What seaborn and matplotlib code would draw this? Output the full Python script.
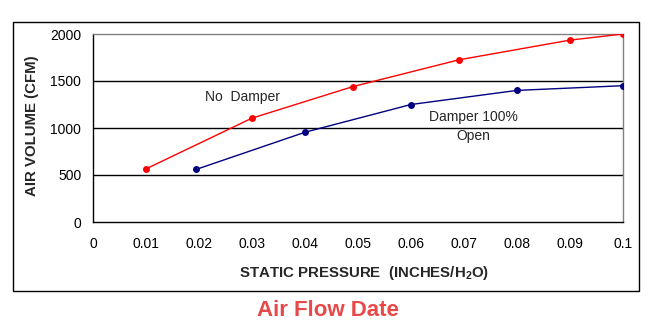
import matplotlib
matplotlib.use("Agg")
import matplotlib.pyplot as plt
import seaborn as sns
import pandas as pd
from matplotlib.patches import Rectangle

# Measured airflow vs. static pressure
no_damper_pressure = [0.01, 0.03, 0.049, 0.069, 0.09, 0.1]
no_damper_cfm = [565, 1105, 1440, 1725, 1935, 2000]
damper_pressure = [0.0195, 0.04, 0.06, 0.08, 0.1]
damper_cfm = [560, 955, 1250, 1400, 1450]

x_ticks = [0, 0.01, 0.02, 0.03, 0.04, 0.05, 0.06, 0.07, 0.08, 0.09, 0.1]
x_tick_labels = ["0", "0.01", "0.02", "0.03", "0.04", "0.05", "0.06", "0.07", "0.08", "0.09", "0.1"]
y_ticks = [0, 500, 1000, 1500, 2000]

df = pd.concat([
    pd.DataFrame({"pressure": no_damper_pressure, "cfm": no_damper_cfm, "series": "No Damper"}),
    pd.DataFrame({"pressure": damper_pressure, "cfm": damper_cfm, "series": "Damper 100% Open"}),
])

sns.set_style("white")
plt.rcParams["font.family"] = ["Liberation Sans", "DejaVu Sans"]

W, H = 649, 327
fig = plt.figure(figsize=(W / 100, H / 100), dpi=100)
ax = fig.add_axes([93 / W, 1 - 222 / H, (623 - 93) / W, (222 - 34) / H])

sns.lineplot(data=df, x="pressure", y="cfm", hue="series",
             palette={"No Damper": "#ff0000", "Damper 100% Open": "#000080"},
             marker="o", markersize=5, markeredgewidth=0, linewidth=1,
             legend=False, ax=ax, zorder=3)

ax.set_xlim(0, 0.1)
ax.set_ylim(0, 2000)
ax.set_xticks(x_ticks)
ax.set_xticklabels(x_tick_labels)
ax.set_yticks(y_ticks)
ax.tick_params(axis="x", direction="in", length=4, width=1, color="black",
               pad=11, labelsize=10, labelcolor="#000000")
ax.tick_params(axis="y", length=0, pad=8.5, labelsize=10, labelcolor="#000000")
for v in y_ticks[1:-1]:
    ax.axhline(v, color="black", linewidth=1, zorder=1)

for side in ("left", "bottom"):
    ax.spines[side].set_color("black")
    ax.spines[side].set_linewidth(1)
for side in ("top", "right"):
    ax.spines[side].set_visible(True)
    ax.spines[side].set_color("#808080")
    ax.spines[side].set_linewidth(1)

ax.set_xlabel("STATIC PRESSURE  (INCHES/H$_\\mathregular{2}$O)", fontsize=10.8,
              fontweight="bold")
ax.set_ylabel("AIR VOLUME (CFM)", fontsize=10.8, fontweight="bold")
ax.xaxis.label.set_va("center")
ax.yaxis.label.set_va("center")
ax.xaxis.set_label_coords((364 - 93) / 530, (222 - 273) / 188)
ax.yaxis.set_label_coords((32 - 93) / 530, (222 - 126) / 188)

ax.text(0.0283, 1330, "No  Damper", fontsize=10, ha="center", va="center")
ax.text(0.0718, 1117, "Damper 100%", fontsize=10, ha="center", va="center")
ax.text(0.0718, 915, "Open", fontsize=10, ha="center", va="center")

# Chart area frame
fig.patches.append(Rectangle((13 / W, 1 - 291 / H), (639 - 13) / W, (291 - 22) / H,
                             transform=fig.transFigure, fill=False,
                             edgecolor="black", linewidth=1))

fig.text(328 / W, 1 - 310 / H, "Air Flow Date", color="#e84848", fontsize=16,
         fontweight="bold", ha="center", va="center")

fig.savefig("out.png", dpi=100)
